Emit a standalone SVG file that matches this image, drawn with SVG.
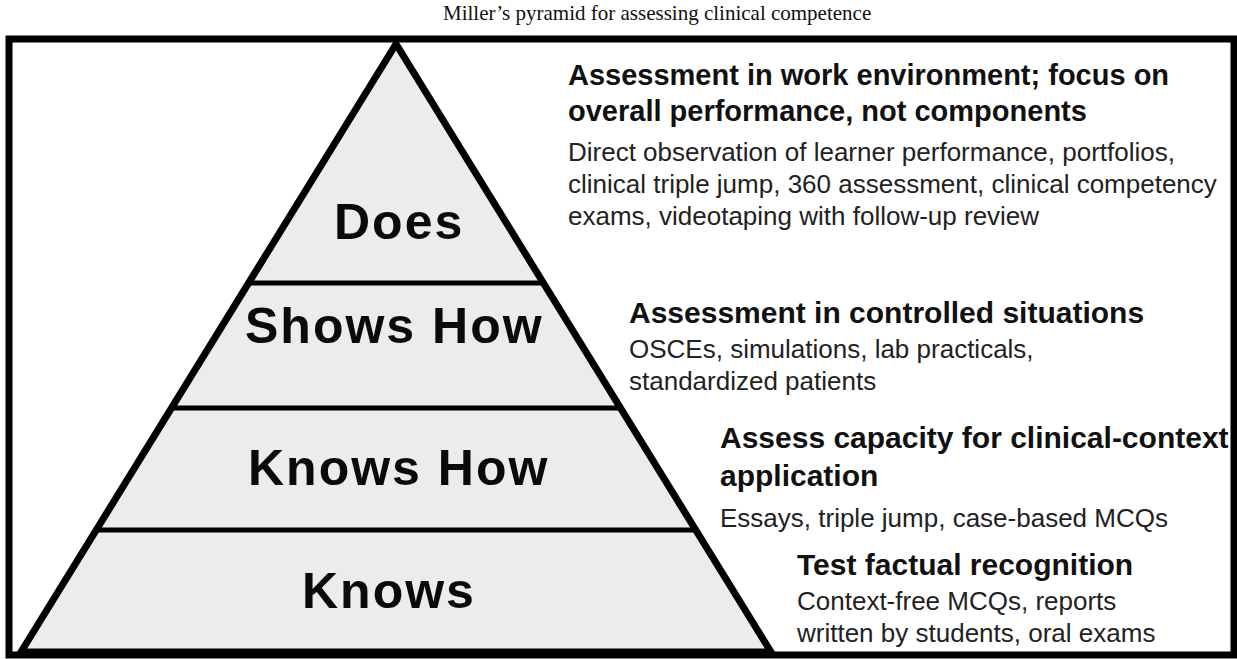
<svg xmlns="http://www.w3.org/2000/svg" width="1237" height="659" viewBox="0 0 1237 659">
<style>
.title{font-family:"Liberation Serif",serif;font-size:21px;fill:#111;}
.lvl{font-family:"Liberation Sans",Arial,sans-serif;font-weight:bold;font-size:50px;letter-spacing:2px;fill:#0a0a0a;}
.hd{font-family:"Liberation Sans",Arial,sans-serif;font-weight:bold;font-size:30px;fill:#111;}
.bd{font-family:"Liberation Sans",Arial,sans-serif;font-size:26px;fill:#222;}
.edge{stroke:#000;stroke-width:5;fill:none;}
</style>
<rect x="0" y="0" width="1237" height="659" fill="#fff"/>
<text class="title" x="443" y="20">Miller’s pyramid for assessing clinical competence</text>

<g id="pyramid">
<polygon points="396,44 21,652 771,652" fill="#ececec" stroke="#000" stroke-width="7" stroke-linejoin="miter"/>
</g>
<g id="connectors">
<line class="edge" x1="249" y1="283" x2="543" y2="283"/>
<line class="edge" x1="172" y1="408" x2="620" y2="408"/>
<line class="edge" x1="97" y1="530" x2="695" y2="530"/>
</g>

<g id="level-does">
<text class="lvl" x="334" y="239">Does</text>
</g>
<g id="level-shows-how">
<text class="lvl" x="245" y="343">Shows How</text>
</g>
<g id="level-knows-how">
<text class="lvl" x="248" y="485">Knows How</text>
</g>
<g id="level-knows">
<text class="lvl" x="302" y="608">Knows</text>
</g>

<g id="desc-does">
<text class="hd" x="568" y="85" style="font-size:29px">Assessment in work environment; focus on</text>
<text class="hd" x="568" y="121" style="font-size:29px">overall performance, not components</text>
<text class="bd" x="568" y="161">Direct observation of learner performance, portfolios,</text>
<text class="bd" x="568" y="193">clinical triple jump, 360 assessment, clinical competency</text>
<text class="bd" x="568" y="225">exams, videotaping with follow-up review</text>
</g>
<g id="desc-shows-how">
<text class="hd" x="629" y="323">Assessment in controlled situations</text>
<text class="bd" x="629" y="358">OSCEs, simulations, lab practicals,</text>
<text class="bd" x="629" y="390">standardized patients</text>
</g>
<g id="desc-knows-how">
<text class="hd" x="720" y="448">Assess capacity for clinical-context</text>
<text class="hd" x="720" y="486">application</text>
<text class="bd" x="720" y="527">Essays, triple jump, case-based MCQs</text>
</g>
<g id="desc-knows">
<text class="hd" x="797" y="575">Test factual recognition</text>
<text class="bd" x="797" y="610">Context-free MCQs, reports</text>
<text class="bd" x="797" y="642">written by students, oral exams</text>
</g>

<g id="frame">
<rect x="9" y="39" width="1225" height="616" fill="none" stroke="#000" stroke-width="7"/>
</g>
</svg>
